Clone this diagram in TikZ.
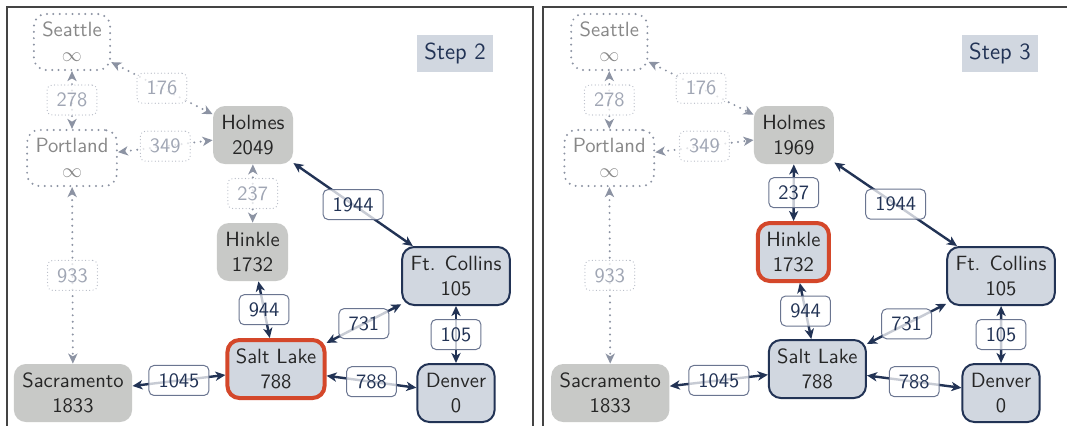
\documentclass[tikz,border=0pt]{standalone}
\usepackage{fontspec}
\usetikzlibrary{arrows.meta}

\definecolor{navy}{HTML}{223355}
\definecolor{lblue}{HTML}{D1D7E0}
\definecolor{visgray}{HTML}{C8C9C7}
\definecolor{curred}{HTML}{D4472A}
\definecolor{dotgray}{HTML}{8C93A3}
\definecolor{unseentext}{HTML}{888888}
\definecolor{dlbltext}{HTML}{A0A6B4}
\definecolor{dlblborder}{HTML}{B4B9C4}
\definecolor{lblborder}{HTML}{6A7590}
\definecolor{framecol}{HTML}{444444}

\newcommand\cityfont{\sffamily\fontsize{10.3}{12.5}\selectfont}
\newcommand\roadfont{\sffamily\fontsize{10.2}{12}\selectfont}
\newcommand\stepfont{\sffamily\fontsize{11.6}{13}\selectfont}

\tikzset{
  city/.style={rounded corners=6pt, align=center, minimum height=29pt,
    inner xsep=4.2pt, font=\cityfont, text=black!85},
  visited/.style={city, fill=visgray},
  active/.style={city, fill=lblue, draw=navy, line width=1pt},
  current/.style={city, fill=lblue, draw=curred, line width=2pt},
  unseen/.style={city, draw=dotgray, line width=1.1pt, line cap=round,
    dash pattern=on 0pt off 3.2pt, text=unseentext, minimum height=28pt},
  stepbox/.style={fill=lblue, minimum width=38pt, minimum height=18.5pt,
    inner sep=0pt, font=\stepfont, text=navy},
  road/.style={draw=navy, line width=1.2pt, {Stealth[length=5pt, width=4.6pt, inset=1.4pt]}-{Stealth[length=5pt, width=4.6pt, inset=1.4pt]}},
  droad/.style={draw=dotgray, line width=1.1pt, line cap=round,
    dash pattern=on 0pt off 3.2pt,
    {Stealth[length=5pt, width=4.6pt, inset=1.4pt]}-{Stealth[length=5pt, width=4.6pt, inset=1.4pt]}},
  lbl/.style={fill=white, fill opacity=0.75, text opacity=1, draw=lblborder,
    draw opacity=1, line width=0.5pt, solid, rounded corners=2.5pt,
    inner xsep=4.8pt, inner ysep=3pt, minimum height=15pt, font=\roadfont,
    text=navy},
  dlbl/.style={fill=white, fill opacity=0.75, text opacity=1, draw=dlblborder,
    draw opacity=1, line width=0.6pt, line cap=round,
    dash pattern=on 0pt off 1.7pt, rounded corners=2.5pt,
    inner xsep=4.8pt, inner ysep=3pt, minimum height=15pt, font=\roadfont,
    text=dlbltext},
}

% One panel of the shortest-path search.
% #1 name prefix, #2 step number, #3 Holmes distance,
% #4 Hinkle style, #5 Salt Lake style, #6/#7 Holmes--Hinkle road and label style
\newcommand\drawpanel[7]{%
  \node[unseen]  (#1sea)  at (72,42)    {Seattle\\$\infty$};
  \node[unseen]  (#1por)  at (72,158)   {Portland\\$\infty$};
  \node[visited] (#1hol)  at (253,135)  {Holmes\\#3};
  \node[#4]      (#1hin)  at (252.5,252){Hinkle\\1732};
  \node[active]  (#1ftc)  at (456,276)  {Ft. Collins\\105};
  \node[#5]      (#1slc)  at (276,369)  {Salt Lake\\788};
  \node[active]  (#1den)  at (456,393)  {Denver\\0};
  \node[visited] (#1sac)  at (73,393)   {Sacramento\\1833};
  \node[stepbox] (#1step) at (455,53.5) {Step #2};
  % roads not yet relaxed
  \draw[droad] (#1sea) -- node[dlbl] {278} (#1por);
  \draw[droad] (#1sea) -- node[dlbl] {176} (#1hol);
  \draw[droad] (#1por) -- node[dlbl] {349} (#1hol);
  \draw[droad] (#1por) -- node[dlbl] {933} (#1sac);
  \draw[#6]    (#1hol) -- node[#7]   {237} (#1hin);
  % roads already used
  \draw[road] (#1hol) -- node[lbl] {1944} (#1ftc);
  \draw[road] (#1hin) -- node[lbl] {944}  (#1slc);
  \draw[road] (#1slc) -- node[lbl] {731}  (#1ftc);
  \draw[road] (#1ftc) -- node[lbl] {105}  (#1den);
  \draw[road] (#1sac) -- node[lbl] {1045} (#1slc);
  \draw[road] (#1slc) -- node[lbl] {788}  (#1den);
}

\begin{document}
\begin{tikzpicture}[x=0.5pt, y=-0.5pt]
  \useasboundingbox (0,0) rectangle (1067,425);
  \clip (0,0) rectangle (1067,425);
  \fill[white] (0,0) rectangle (1067,425);
  % panel frames
  \draw[framecol, line width=0.8pt] (7,7) rectangle (533,440);
  \draw[framecol, line width=0.8pt] (543,7) rectangle (1090,440);
  % Step 2
  \begin{scope}
    \drawpanel{L}{2}{2049}{visited}{current}{droad}{dlbl}
  \end{scope}
  % Step 3
  \begin{scope}[xshift=267.93pt, xscale=1.02]
    \drawpanel{R}{3}{1969}{current}{active}{road}{lbl}
  \end{scope}
\end{tikzpicture}
\end{document}
